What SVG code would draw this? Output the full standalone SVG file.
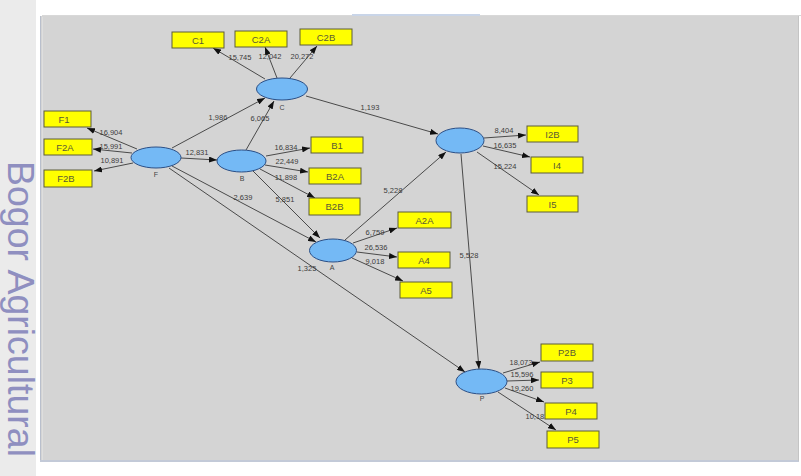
<svg xmlns="http://www.w3.org/2000/svg" width="801" height="476" viewBox="0 0 801 476">
  <style>
    .lv { fill: #74b9f5; stroke: #2b4f86; stroke-width: 1; }
    .mv rect { fill: #ffff00; stroke: #5c5c3a; stroke-width: 1; }
    .mv text { font-family: "Liberation Sans", Arial, sans-serif; font-size: 9.5px; fill: #5a5a36; text-anchor: middle; }
    .nl { font-family: "Liberation Sans", Arial, sans-serif; font-size: 7px; fill: #444; text-anchor: middle; }
    .edges line { stroke: #4a4a4a; stroke-width: 1; marker-end: url(#arr); }
    .val { font-family: "Liberation Sans", Arial, sans-serif; font-size: 7.5px; fill: #3c3c3c; text-anchor: middle; }
  </style>
  <defs>
    <marker id="arr" markerUnits="userSpaceOnUse" markerWidth="8" markerHeight="6" refX="8" refY="3" orient="auto">
      <path d="M0,0 L8,3 L0,6 Z" fill="#111"/>
    </marker>
  </defs>

  <!-- page background and side strip -->
  <rect x="0" y="0" width="801" height="476" fill="#ffffff"/>
  <rect x="0" y="0" width="36" height="476" fill="#ebebeb"/>
  <text transform="translate(8,161) rotate(90)" font-family="&quot;Liberation Sans&quot;, Arial, sans-serif" font-size="37.5" fill="#8f8fc0">Bogor Agricultural</text>

  <!-- tab bar -->
  <line x1="42" y1="15.5" x2="801" y2="15.5" stroke="#d8d8d8"/>
  <rect x="352" y="14" width="128" height="3" fill="#c9d5e8"/>

  <!-- drawing canvas -->
  <rect x="40" y="16" width="759" height="445" fill="#d4d4d4"/>
  <line x1="40.5" y1="16" x2="40.5" y2="461" stroke="#b9bfcc"/>
  <line x1="42.5" y1="17" x2="42.5" y2="460" stroke="#dedede"/>
  <line x1="40" y1="461" x2="799" y2="461" stroke="#c3cad8" stroke-width="2"/>
  <line x1="798.5" y1="16" x2="798.5" y2="461" stroke="#c4c4c4"/>

  <!-- connectors -->
  <g class="edges" id="edges">
    <line x1="265" y1="79" x2="213" y2="48"/>
    <line x1="277" y1="78" x2="265" y2="47"/>
    <line x1="290" y1="78" x2="317" y2="46"/>
    <line x1="306" y1="96" x2="438" y2="134"/>
    <line x1="137" y1="149" x2="87" y2="128"/>
    <line x1="132" y1="153" x2="93" y2="149"/>
    <line x1="133" y1="163" x2="94" y2="171"/>
    <line x1="172" y1="148" x2="265" y2="98"/>
    <line x1="181" y1="158" x2="217" y2="160"/>
    <line x1="172" y1="166" x2="316" y2="242"/>
    <line x1="169" y1="168" x2="465" y2="372"/>
    <line x1="246" y1="150" x2="274" y2="101"/>
    <line x1="266" y1="156" x2="310" y2="148"/>
    <line x1="265" y1="165" x2="308" y2="172"/>
    <line x1="260" y1="169" x2="315" y2="198"/>
    <line x1="253" y1="171" x2="320" y2="238"/>
    <line x1="345" y1="240" x2="446" y2="152"/>
    <line x1="353" y1="243" x2="397" y2="228"/>
    <line x1="357" y1="252" x2="397" y2="257"/>
    <line x1="352" y1="258" x2="403" y2="281"/>
    <line x1="461" y1="154" x2="479" y2="369"/>
    <line x1="484" y1="138" x2="526" y2="135"/>
    <line x1="483" y1="146" x2="530" y2="157"/>
    <line x1="477" y1="152" x2="539" y2="195"/>
    <line x1="503" y1="373" x2="540" y2="362"/>
    <line x1="507" y1="381" x2="539" y2="380"/>
    <line x1="505" y1="388" x2="544" y2="402"/>
    <line x1="498" y1="392" x2="556" y2="430"/>
  </g>

  <!-- path coefficients / loadings -->
  <g id="edge-values">
    <text class="val" x="240" y="60">15,745</text>
    <text class="val" x="270" y="59">12,042</text>
    <text class="val" x="302" y="59">20,272</text>
    <text class="val" x="370" y="110">1,193</text>
    <text class="val" x="111" y="135">16,904</text>
    <text class="val" x="111" y="149">15,991</text>
    <text class="val" x="112" y="163">10,891</text>
    <text class="val" x="218" y="120">1,986</text>
    <text class="val" x="197" y="155">12,831</text>
    <text class="val" x="243" y="200">2,639</text>
    <text class="val" x="307" y="271">1,325</text>
    <text class="val" x="260" y="121">6,065</text>
    <text class="val" x="286" y="150">16,834</text>
    <text class="val" x="287" y="164">22,449</text>
    <text class="val" x="286" y="180">11,898</text>
    <text class="val" x="285" y="202">5,851</text>
    <text class="val" x="393" y="193">5,228</text>
    <text class="val" x="375" y="235">6,759</text>
    <text class="val" x="376" y="250">26,536</text>
    <text class="val" x="375" y="264">9,018</text>
    <text class="val" x="469" y="258">5,528</text>
    <text class="val" x="504" y="133">8,404</text>
    <text class="val" x="505" y="148">16,635</text>
    <text class="val" x="505" y="169">15,224</text>
    <text class="val" x="521" y="365">18,073</text>
    <text class="val" x="522" y="377">15,596</text>
    <text class="val" x="522" y="391">19,260</text>
    <text class="val" x="537" y="419">10,183</text>
  </g>

  <!-- latent variables -->
  <g id="node-C"><ellipse class="lv" cx="282" cy="89" rx="25.5" ry="11"/><text class="nl" x="282" y="110">C</text></g>
  <g id="node-F"><ellipse class="lv" cx="156" cy="157.5" rx="25" ry="10.5"/><text class="nl" x="156" y="177">F</text></g>
  <g id="node-B"><ellipse class="lv" cx="241.5" cy="161" rx="24.5" ry="11"/><text class="nl" x="242" y="181">B</text></g>
  <g id="node-A"><ellipse class="lv" cx="333" cy="250.5" rx="23.5" ry="11.5"/><text class="nl" x="332" y="270">A</text></g>
  <g id="node-I"><ellipse class="lv" cx="460" cy="140.5" rx="24" ry="12.5"/></g>
  <g id="node-P"><ellipse class="lv" cx="481.5" cy="381.5" rx="25.5" ry="12.5"/><text class="nl" x="482" y="401">P</text></g>

  <!-- indicators -->
  <g id="ind-C1" class="mv"><rect x="172" y="32" width="52" height="16"/><text x="198" y="43.5">C1</text></g>
  <g id="ind-C2A" class="mv"><rect x="235" y="31" width="52" height="16"/><text x="261" y="42.5">C2A</text></g>
  <g id="ind-C2B" class="mv"><rect x="300" y="29" width="52" height="16"/><text x="326" y="40.5">C2B</text></g>
  <g id="ind-F1" class="mv"><rect x="44" y="111" width="47" height="16"/><text x="64" y="122.5">F1</text></g>
  <g id="ind-F2A" class="mv"><rect x="44" y="139" width="48" height="16"/><text x="65" y="150.5">F2A</text></g>
  <g id="ind-F2B" class="mv"><rect x="44" y="170" width="48" height="17"/><text x="66" y="182">F2B</text></g>
  <g id="ind-B1" class="mv"><rect x="311" y="137" width="52" height="16"/><text x="337" y="148.5">B1</text></g>
  <g id="ind-B2A" class="mv"><rect x="309" y="168" width="52" height="16"/><text x="335" y="179.5">B2A</text></g>
  <g id="ind-B2B" class="mv"><rect x="309" y="198" width="51" height="17"/><text x="334.5" y="210">B2B</text></g>
  <g id="ind-I2B" class="mv"><rect x="527" y="126" width="51" height="16"/><text x="552.5" y="137.5">I2B</text></g>
  <g id="ind-I4" class="mv"><rect x="531" y="157" width="52" height="16"/><text x="557" y="168.5">I4</text></g>
  <g id="ind-I5" class="mv"><rect x="527" y="196" width="51" height="16"/><text x="552.5" y="207.5">I5</text></g>
  <g id="ind-A2A" class="mv"><rect x="398" y="212" width="53" height="16"/><text x="424.5" y="223.5">A2A</text></g>
  <g id="ind-A4" class="mv"><rect x="398" y="252" width="52" height="16"/><text x="424" y="263.5">A4</text></g>
  <g id="ind-A5" class="mv"><rect x="400" y="282" width="52" height="16"/><text x="426" y="293.5">A5</text></g>
  <g id="ind-P2B" class="mv"><rect x="541" y="344" width="52" height="17"/><text x="567" y="356">P2B</text></g>
  <g id="ind-P3" class="mv"><rect x="541" y="372" width="52" height="16"/><text x="567" y="383.5">P3</text></g>
  <g id="ind-P4" class="mv"><rect x="545" y="403" width="52" height="16"/><text x="571" y="414.5">P4</text></g>
  <g id="ind-P5" class="mv"><rect x="547" y="431" width="52" height="17"/><text x="573" y="443">P5</text></g>
</svg>
